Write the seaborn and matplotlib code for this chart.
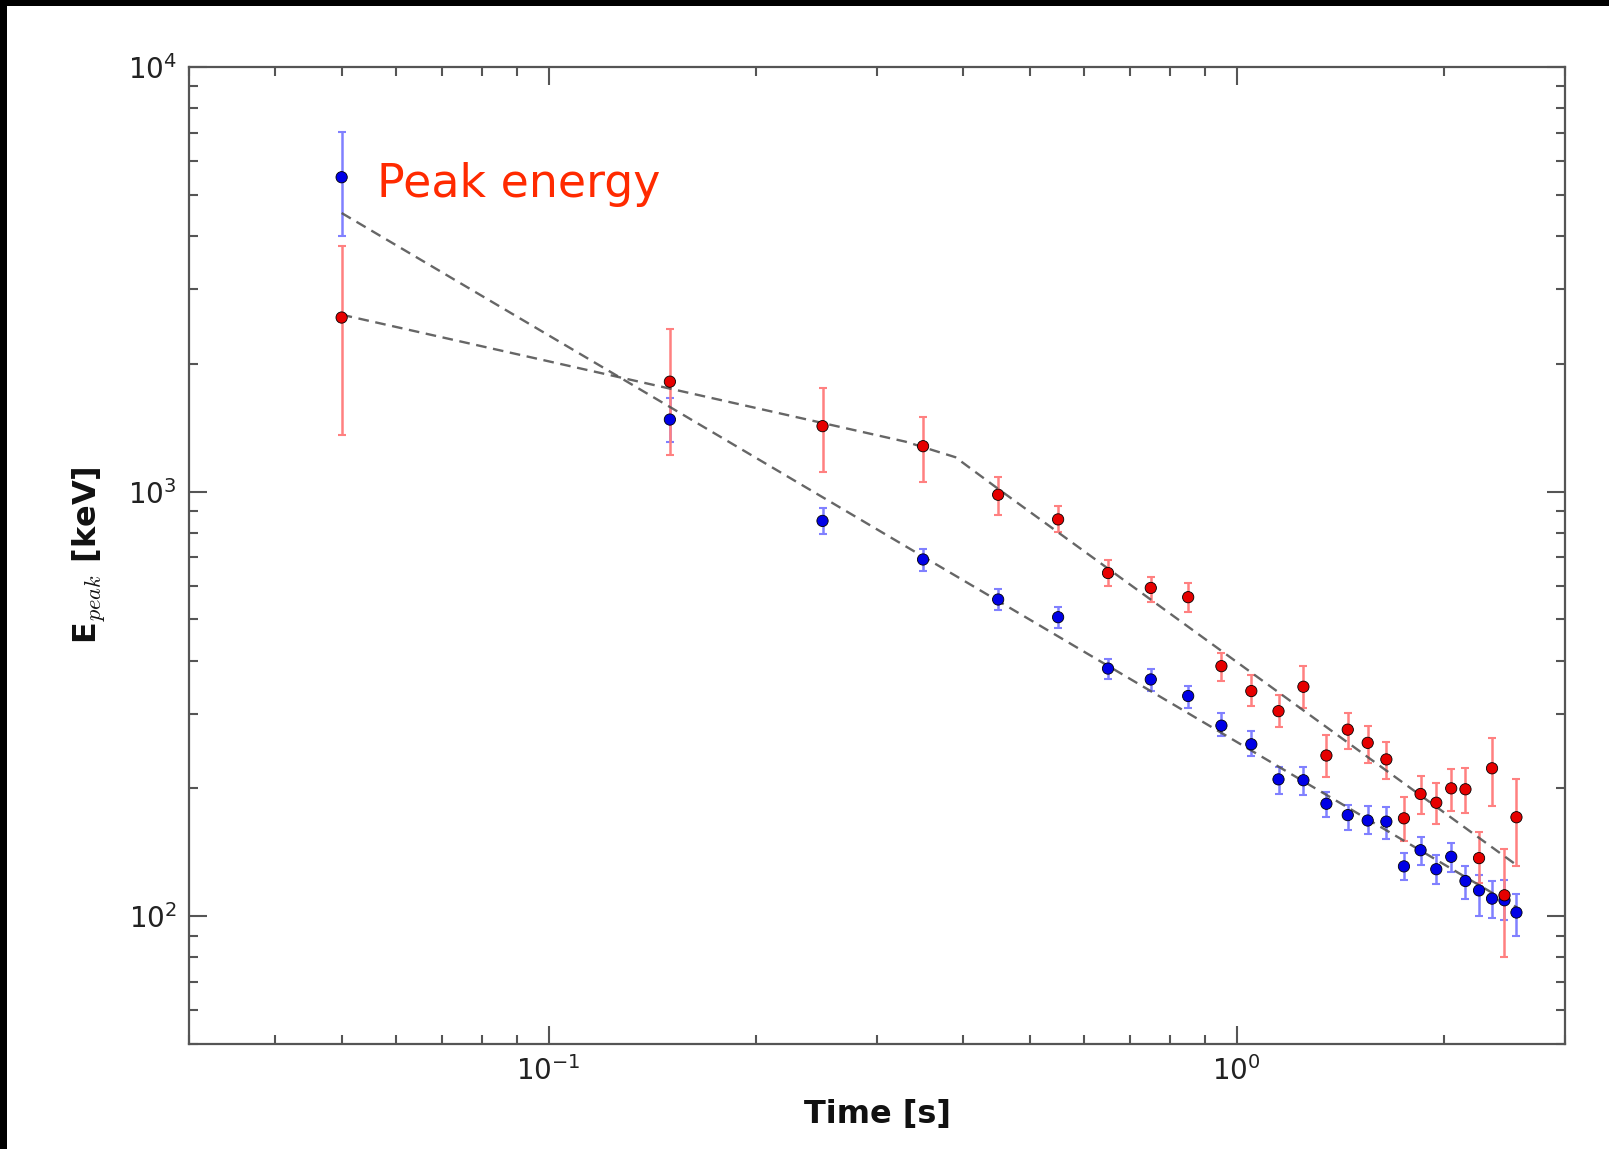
import matplotlib
matplotlib.use("Agg")
import matplotlib.pyplot as plt
from matplotlib.patches import Rectangle
from matplotlib.ticker import LogLocator, NullFormatter
import seaborn as sns
import pandas as pd
import numpy as np

# ---------------- data ----------------
time_s = [0.05, 0.15, 0.25, 0.35, 0.45, 0.55, 0.65, 0.75, 0.85, 0.95, 1.05, 1.15, 1.25,
          1.35, 1.45, 1.55, 1.65, 1.75, 1.85, 1.95, 2.05, 2.15, 2.25, 2.35, 2.45, 2.55]

blue_epeak = [5500, 1478, 853, 692, 557, 506, 383, 361, 330, 281, 254, 210, 209,
              184, 173, 168, 167, 131, 143, 129, 138, 121, 115, 110, 109, 102]
blue_low = [3990, 1309, 794, 651, 526, 477, 361, 340, 310, 265, 238, 194, 193,
            171, 160, 156, 152, 122, 132, 119, 127, 110, 100, 99, 98, 90]
blue_high = [7030, 1663, 914, 732, 589, 536, 403, 382, 349, 301, 273, 225, 224,
             196, 183, 182, 181, 141, 154, 139, 149, 131, 125, 121, 122, 113]

red_epeak = [2570, 1815, 1426, 1279, 983, 860, 643, 593, 564, 388, 339, 304, 347,
             239, 275, 256, 234, 170, 194, 185, 200, 199, 137, 223, 112, 171]
red_low = [1360, 1220, 1114, 1055, 883, 802, 598, 550, 521, 358, 312, 279, 310,
           213, 248, 230, 210, 150, 174, 165, 177, 175, 120, 182, 80, 131]
red_high = [3795, 2415, 1752, 1500, 1081, 927, 689, 629, 608, 416, 369, 332, 388,
            267, 301, 281, 257, 191, 214, 206, 222, 223, 158, 263, 144, 210]

blue_fit_t = [0.05, 2.55]
blue_fit_e = [4530, 105]
red_fit_t = [0.05, 0.33, 0.39, 0.45, 2.55]
red_fit_e = [2610, 1311, 1205, 1015, 132]

x_ticks = [0.1, 1.0]
x_ticklabels = [r"$\mathregular{10^{-1}}$", r"$\mathregular{10^{0}}$"]
y_ticks = [100, 1000, 10000]
y_ticklabels = [r"$\mathregular{10^{2}}$", r"$\mathregular{10^{3}}$", r"$\mathregular{10^{4}}$"]

annotation = "Peak energy"
xlabel = "Time [s]"
ylabel = r"E$_{peak}$ [keV]"

# ---------------- style ----------------
sns.set_style("ticks")
plt.rcParams["font.family"] = ["DejaVu Sans"]
plt.rcParams["mathtext.fontset"] = "cm"

W, H = 1609, 1149
fig = plt.figure(figsize=(W / 100, H / 100), dpi=100)
fig.patch.set_facecolor("white")
ax = fig.add_axes([189 / W, 1 - 1044 / H, (1565 - 189) / W, (1044 - 67) / H])

blue_c = "#0000e6"
red_c = "#e60000"
blue_err = "#8080ff"
red_err = "#ff8080"

fit_df = pd.concat([
    pd.DataFrame({"t": blue_fit_t, "e": blue_fit_e, "s": "blue"}),
    pd.DataFrame({"t": red_fit_t, "e": red_fit_e, "s": "red"}),
])
sns.lineplot(data=fit_df, x="t", y="e", units="s", estimator=None, color="#555555",
             lw=1.7, ax=ax, legend=False, zorder=4, dashes=False)
for ln in ax.lines:
    ln.set_dashes((4.5, 2.8))
    ln.set_alpha(0.9)

for y, lo, hi, ec in [(blue_epeak, blue_low, blue_high, blue_err),
                      (red_epeak, red_low, red_high, red_err)]:
    y = np.asarray(y, float)
    yerr = [y - np.asarray(lo, float), np.asarray(hi, float) - y]
    ax.errorbar(time_s, y, yerr=yerr, fmt="none", ecolor=ec, elinewidth=1.8,
                capsize=3.0, capthick=1.5, zorder=3)

pts = pd.concat([
    pd.DataFrame({"t": time_s, "e": blue_epeak, "s": "blue"}),
    pd.DataFrame({"t": time_s, "e": red_epeak, "s": "red"}),
])
sns.scatterplot(data=pts, x="t", y="e", hue="s", palette={"blue": blue_c, "red": red_c},
                s=66, edgecolor="black", linewidth=0.6, ax=ax, legend=False, zorder=5)

ax.set_xscale("log")
ax.set_yscale("log")
ax.set_xlim(0.03, 3.0)
ax.set_ylim(50, 10000)

ax.set_xticks(x_ticks)
ax.set_xticklabels(x_ticklabels)
ax.set_yticks(y_ticks)
ax.set_yticklabels(y_ticklabels)
ax.xaxis.set_minor_locator(LogLocator(base=10, subs=np.arange(2, 10)))
ax.yaxis.set_minor_locator(LogLocator(base=10, subs=np.arange(2, 10)))
ax.xaxis.set_minor_formatter(NullFormatter())
ax.yaxis.set_minor_formatter(NullFormatter())

spine_c = "#555555"
for sp in ax.spines.values():
    sp.set_visible(True)
    sp.set_color(spine_c)
    sp.set_linewidth(1.6)
ax.tick_params(which="both", direction="in", top=True, right=True, color=spine_c,
               width=1.5, labelsize=20, labelcolor="#222222")
ax.tick_params(which="major", length=13, pad=9)
ax.tick_params(which="minor", length=6.5)

ax.set_xlabel(xlabel, fontsize=23, fontweight="bold", color="#111111", labelpad=9)
ax.set_ylabel(ylabel, fontsize=23, fontweight="bold", color="#111111", labelpad=14)

ax.text(0.0562, 4930, annotation, color="#ff2a00", fontsize=33, fontweight="normal",
        family=["DejaVu Sans"], ha="left", va="baseline", zorder=6)

# black border strips (left and top)
fig.patches.append(Rectangle((0, 0), 7 / W, 1, transform=fig.transFigure,
                             facecolor="black", edgecolor="none", zorder=10))
fig.patches.append(Rectangle((0, 1 - 6 / H), 1, 6 / H, transform=fig.transFigure,
                             facecolor="black", edgecolor="none", zorder=10))

fig.savefig("out.png", dpi=100, facecolor="white")
